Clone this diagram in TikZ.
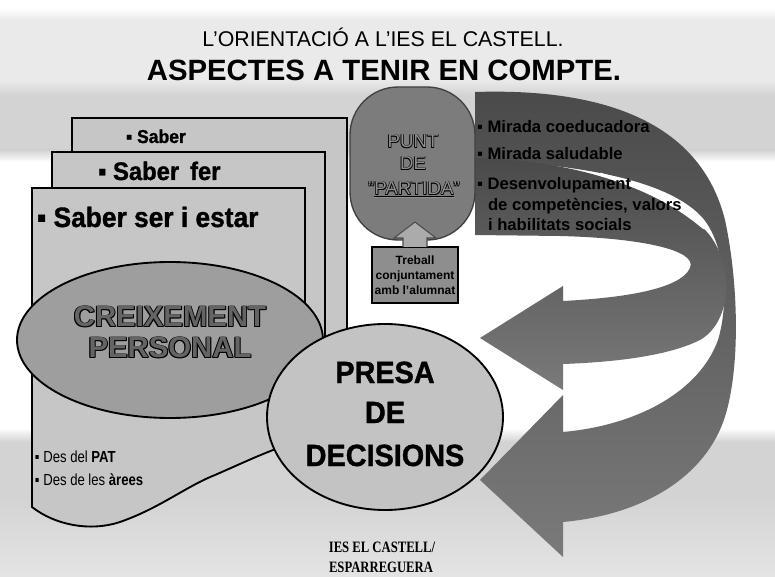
\documentclass[tikz,border=0pt]{standalone}
\usepackage{fontspec}
\usepackage{graphicx}
\setmainfont{Liberation Sans}
\newfontfamily\footfont{Liberation Serif}
\newfontfamily\heavyfont{Liberation Sans Bold}[FakeBold=1.2, FakeStretch=0.94]
\usetikzlibrary{shapes.geometric,calc}
\definecolor{bglight}{HTML}{EAEAEA}
\definecolor{bgmid}{HTML}{D3D3D3}
\definecolor{bglow}{HTML}{E4E4E4}
\definecolor{cardgray}{HTML}{C6C6C6}
\definecolor{creixgray}{HTML}{9E9E9E}
\definecolor{creixtext}{HTML}{646464}
\definecolor{presagray}{HTML}{C3C3C3}
\definecolor{puntgray}{HTML}{7C7C7C}
\definecolor{punttext}{HTML}{8E8E8E}
\definecolor{boxgray}{HTML}{8E8E8E}
\definecolor{uparrowgray}{HTML}{ABABAB}
\definecolor{ribtop}{HTML}{4A4A4A}
\definecolor{ribbot}{HTML}{7A7A7A}
\newcommand\myoutline[3]{%
  \leavevmode
  \rlap{\color{black}\kern-#2\raisebox{#2}{#3}}%
  \rlap{\color{black}\kern#2\raisebox{#2}{#3}}%
  \rlap{\color{black}\kern-#2\raisebox{-#2}{#3}}%
  \rlap{\color{black}\kern#2\raisebox{-#2}{#3}}%
  {\color{#1}#3}}
\tikzset{
  card/.style={fill=cardgray, draw=black, line width=1.4pt},
  cardtext/.style={anchor=base west},
  bigtext/.style={anchor=base, font=\heavyfont\fontsize{23}{26}\selectfont},
  ribtext/.style={anchor=base west, font=\bfseries\fontsize{12.5}{14}\selectfont, text=black},
  punttxt/.style={anchor=base, font=\fontsize{14}{16}\selectfont},
  destext/.style={anchor=base west, font=\fontsize{12}{14}\selectfont},
}
\begin{document}
\begin{tikzpicture}[x=0.75pt, y=-0.75pt, every node/.style={inner sep=0pt, outer sep=0pt}]
\useasboundingbox (0,0) rectangle (775,577);
% background
\fill[white] (0,0) rectangle (775,577);
\shade[top color=white, bottom color=bglight] (0,8) rectangle (775,20);
\fill[bglight] (0,20) rectangle (775,80);
\shade[top color=bglight, bottom color=bgmid] (0,80) rectangle (775,95);
\fill[bgmid] (0,95) rectangle (775,150);
\shade[top color=bgmid, bottom color=white] (0,150) rectangle (775,162);
\shade[top color=white, bottom color=bgmid] (0,428) rectangle (775,442);
\fill[bgmid] (0,442) rectangle (775,495);
\shade[top color=bgmid, bottom color=bglow] (0,495) rectangle (775,577);
% cards
\draw[card] (72,118) rectangle (347,445);
\draw[card] (52,152) rectangle (325,450);
\draw[card] (32,188) -- (305,188) -- (305,440)
  .. controls (280,445) and (245,462) .. (215,475)
  .. controls (185,487) and (160,508) .. (120,522)
  .. controls (90,532) and (55,525) .. (32,507) -- cycle;
\node[cardtext, font=\heavyfont\fontsize{14}{16}\selectfont] (saber) at (126,143) {▪ Saber};
\node[cardtext, font=\heavyfont\fontsize{19}{22}\selectfont] (saberfer) at (98,180) {▪ Saber\, fer};
\node[cardtext, font=\heavyfont\fontsize{21}{24}\selectfont] (saberser) at (37,227) {▪ Saber ser i estar};
\node[destext] (des1) at (35,462) {\scalebox{0.82}[1]{▪ Des del \textbf{PAT}}};
\node[destext] (des2) at (35,485) {\scalebox{0.82}[1]{▪ Des de les \textbf{àrees}}};
% creixement
\node[ellipse, draw=black, line width=1.4pt, fill=creixgray, minimum width=229.5pt, minimum height=117pt] (creix) at (170,340) {};
\node[anchor=base, font=\bfseries\fontsize{22}{25}\selectfont] (creix1) at (170,327) {\myoutline{creixtext}{.7pt}{CREIXEMENT}};
\node[anchor=base, font=\bfseries\fontsize{22}{25}\selectfont] (creix2) at (170,358) {\myoutline{creixtext}{.7pt}{PERSONAL}};
% ribbons
\shade[top color=ribtop, bottom color=ribbot]
  (475,92) .. controls (600,88) and (700,120) .. (725,220)
  .. controls (740,290) and (740,380) .. (722,425)
  .. controls (700,480) and (640,515) .. (563,522)
  -- (563,557) -- (480,480) -- (563,395) -- (563,432)
  .. controls (640,425) and (700,390) .. (718,340)
  .. controls (730,300) and (725,240) .. (700,215)
  .. controls (670,185) and (600,165) .. (475,160) -- cycle;
\shade[top color=ribtop, bottom color=ribbot]
  (475,158) .. controls (560,160) and (640,180) .. (700,225)
  .. controls (735,255) and (735,320) .. (700,340)
  .. controls (670,355) and (620,362) .. (563,364)
  -- (563,390) -- (480,338) -- (563,286) -- (563,301)
  .. controls (620,298) and (680,290) .. (690,268)
  .. controls (698,250) and (640,238) .. (560,236)
  -- (475,235) -- cycle;
\draw[white, line width=2pt, line cap=round] (600,174) .. controls (635,184) and (672,201) .. (704,228);
\node[ribtext] (r1) at (477,133) {▪ Mirada coeducadora};
\node[ribtext] (r2) at (477,160) {▪ Mirada saludable};
\node[ribtext] (r3) at (477,190) {▪ Desenvolupament};
\node[ribtext] (r4) at (488,211) {de competències, valors};
\node[ribtext] (r5) at (488,231) {i habilitats socials};
% punt de partida
\node[draw=black!75, line width=1pt, fill=puntgray, rounded corners=36pt, minimum width=93.75pt, minimum height=114.75pt] (punt) at (412.5,163.5) {};
\node[punttxt] (punt1) at (413,148) {\myoutline{punttext}{.45pt}{PUNT}};
\node[punttxt] (punt2) at (413,170) {\myoutline{punttext}{.45pt}{DE}};
\node[punttxt] (punt3) at (414,195) {\myoutline{punttext}{.45pt}{"\underline{PARTIDA}"}};
\node[draw=black, line width=1.5pt, fill=boxgray, minimum width=64.5pt, minimum height=42pt, align=center, font=\bfseries\fontsize{9}{11.25}\selectfont] (box) at (415,275) {Treball\\conjuntament\\amb l'alumnat};
\draw[fill=uparrowgray, draw=black!70, line width=0.8pt]
  ($(box.north)+(-12,0)$) -- ++(0,-9) -- ++(-9,0) -- ($(box.north)+(0,-25)$)
  -- ($(box.north)+(21,-9)$) -- ++(-9,0) -- ($(box.north)+(12,0)$);
% presa de decisions
\node[ellipse, draw=black, line width=1.4pt, fill=presagray, minimum width=177pt, minimum height=139.5pt] (presa) at (385,417) {};
\node[bigtext] (presa1) at (385,383) {PRESA};
\node[bigtext] (presa2) at (385,423) {DE};
\node[bigtext] (presa3) at (385,466) {DECISIONS};
% titles
\node[anchor=base, font=\fontsize{16}{19}\selectfont] (title1) at (383,47) {L'ORIENTACIÓ A L'IES EL CASTELL.};
\node[anchor=base, font=\bfseries\fontsize{22}{26}\selectfont] (title2) at (384,81) {ASPECTES A TENIR EN COMPTE.};
% footer
\node[anchor=base, font=\footfont\bfseries\fontsize{9.5}{12}\selectfont] (foot1) at (382,552) {\scalebox{1}[1.25]{IES EL CASTELL/}};
\node[anchor=base, font=\footfont\bfseries\fontsize{9.5}{12}\selectfont] (foot2) at (381,572) {\scalebox{1}[1.25]{ESPARREGUERA}};
\end{tikzpicture}
\end{document}
